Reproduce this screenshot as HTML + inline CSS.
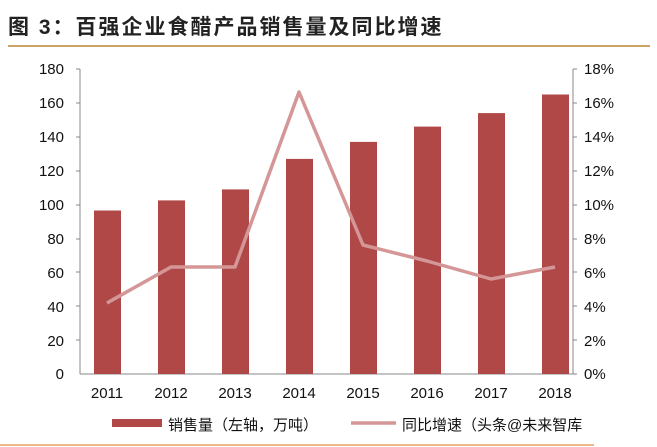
<html><body style="margin:0;background:#fff">
<svg width="657" height="447" xmlns="http://www.w3.org/2000/svg" font-family="Liberation Sans, Noto Sans CJK SC, sans-serif">
<text x="8" y="34" font-size="21" font-weight="bold" fill="#222" font-family="Liberation Sans, Noto Sans CJK SC, sans-serif" letter-spacing="2">图 3：百强企业食醋产品销售量及同比增速</text>
<line x1="8" y1="46" x2="650" y2="46" stroke="#c9a56a" stroke-width="2"/>
<g stroke="#888" stroke-width="1" fill="none">
<line x1="80" y1="69" x2="80" y2="374"/>
<line x1="573" y1="69" x2="573" y2="374"/>
<line x1="80" y1="374" x2="573" y2="374"/>
</g>
<g font-size="15" fill="#111" text-anchor="end">
<text x="64" y="74">180</text><text x="64" y="108">160</text><text x="64" y="142">140</text><text x="64" y="176">120</text><text x="64" y="210">100</text><text x="64" y="244">80</text><text x="64" y="278">60</text><text x="64" y="312">40</text><text x="64" y="346">20</text><text x="64" y="379">0</text>
</g>
<g font-size="15" fill="#111">
<text x="584" y="74">18%</text><text x="584" y="108">16%</text><text x="584" y="142">14%</text><text x="584" y="176">12%</text><text x="584" y="210">10%</text><text x="584" y="244">8%</text><text x="584" y="278">6%</text><text x="584" y="312">4%</text><text x="584" y="346">2%</text><text x="584" y="379">0%</text>
</g>
<g stroke="#888">
<line x1="76" y1="69" x2="80" y2="69"/><line x1="76" y1="103" x2="80" y2="103"/><line x1="76" y1="137" x2="80" y2="137"/><line x1="76" y1="171" x2="80" y2="171"/><line x1="76" y1="205" x2="80" y2="205"/><line x1="76" y1="239" x2="80" y2="239"/><line x1="76" y1="272" x2="80" y2="272"/><line x1="76" y1="306" x2="80" y2="306"/><line x1="76" y1="340" x2="80" y2="340"/>
<line x1="573" y1="69" x2="577" y2="69"/><line x1="573" y1="103" x2="577" y2="103"/><line x1="573" y1="137" x2="577" y2="137"/><line x1="573" y1="171" x2="577" y2="171"/><line x1="573" y1="205" x2="577" y2="205"/><line x1="573" y1="239" x2="577" y2="239"/><line x1="573" y1="272" x2="577" y2="272"/><line x1="573" y1="306" x2="577" y2="306"/><line x1="573" y1="340" x2="577" y2="340"/><line x1="573" y1="374" x2="577" y2="374"/>
</g>
<g fill="#b04848">
<rect x="94" y="210.5" width="27" height="163.5"/>
<rect x="158" y="200.4" width="27" height="173.6"/>
<rect x="222" y="189.4" width="27" height="184.6"/>
<rect x="286" y="158.9" width="27" height="215.1"/>
<rect x="350" y="141.9" width="27" height="232.1"/>
<rect x="414" y="126.6" width="27" height="247.4"/>
<rect x="478" y="113.1" width="27" height="260.9"/>
<rect x="542" y="94.5" width="27" height="279.5"/>
</g>
<polyline fill="none" stroke="#d49696" stroke-width="3.5" stroke-linejoin="round" points="107,303 171,267 235,267 299,92 363,245 427,261 491,279 555,267"/>
<g font-size="15" fill="#111" text-anchor="middle">
<text x="107" y="398">2011</text><text x="171" y="398">2012</text><text x="235" y="398">2013</text><text x="299" y="398">2014</text><text x="363" y="398">2015</text><text x="427" y="398">2016</text><text x="491" y="398">2017</text><text x="555" y="398">2018</text>
</g>
<rect x="112" y="419" width="50" height="8" fill="#b04848"/>
<text x="168" y="430" font-size="15" fill="#111">销售量（左轴，万吨）</text>
<line x1="351" y1="423" x2="396" y2="423" stroke="#d49696" stroke-width="3.5"/>
<text x="402" y="430" font-size="15" fill="#111">同比增速（头条@未来智库</text>
<line x1="0" y1="445" x2="594" y2="445" stroke="#e8a060" stroke-width="1.5"/>
</svg>
</body></html>
